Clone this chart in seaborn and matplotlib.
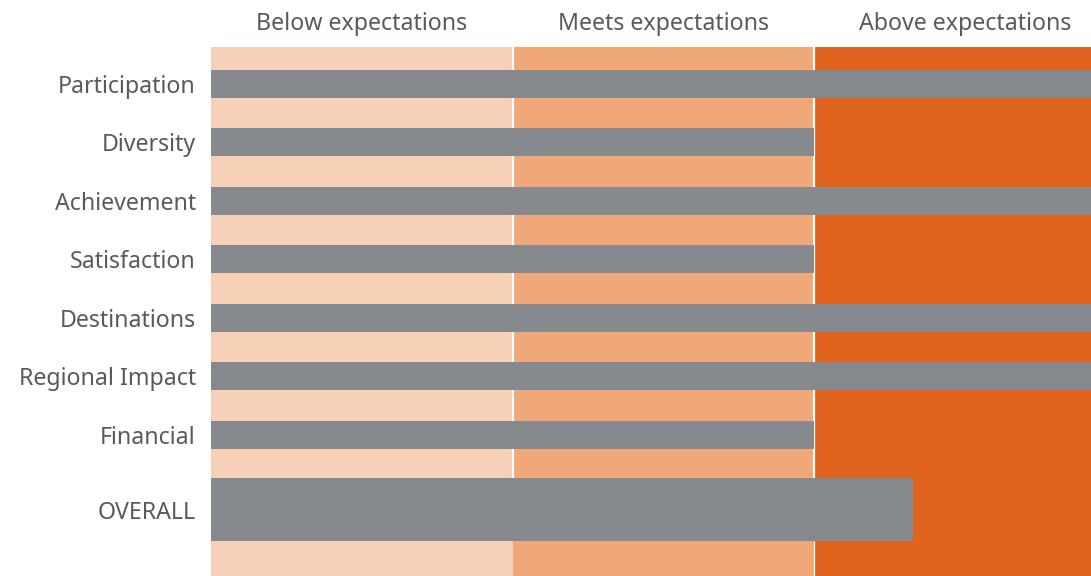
import numpy as np
import pandas as pd
import matplotlib
matplotlib.use("Agg")
import matplotlib.pyplot as plt
import matplotlib.transforms as mtrans
import seaborn as sns

# ---- data ----
categories = ["Participation", "Diversity", "Achievement", "Satisfaction",
              "Destinations", "Regional Impact", "Financial"]
scores = [3, 2, 3, 2, 3, 3, 2]
overall_label = "OVERALL"
overall_score = 2.33
band_labels = ["Below expectations", "Meets expectations", "Above expectations"]
band_edges = [0, 1, 2, 3]

# ---- style ----
sns.set_theme(style="white")
plt.rcParams["font.family"] = ["Noto Sans", "DejaVu Sans"]

BAR = "#86898D"
BANDS = ["#F6D1B8", "#F0A878", "#E0641E"]
TXT = "#5A5A5A"
FS = 16.7

fig = plt.figure(figsize=(10.91, 5.76), dpi=100)
ax = fig.add_axes([211 / 1091, 0.0, 880 / 1091, 1 - 47 / 576])

# positions (layout)
row_pos = np.arange(len(categories), dtype=float)
overall_pos = row_pos[-1] + 75 / 58.5
ylim = (overall_pos + 66 / 58.5, -36.5 / 58.5)
xmax = 880 / 301.5

# background bands
for i, c in enumerate(BANDS):
    ax.axvspan(band_edges[i], band_edges[i + 1], color=c, zorder=0, lw=0)
# white separators
ov_h = 63 / 58.5
ax.vlines([1, 2], ylim[1], overall_pos - ov_h / 2, colors="white", lw=1.6, zorder=1)
ax.vlines([2], overall_pos + ov_h / 2, ylim[0], colors="white", lw=0.9, zorder=1)

df = pd.DataFrame({"pos": row_pos, "score": scores})
sns.barplot(data=df, x="score", y="pos", orient="h", native_scale=True,
            width=28 / 58.5, color=BAR, saturation=1, errorbar=None, ax=ax,
            zorder=2)
df_o = pd.DataFrame({"pos": [overall_pos], "score": [overall_score]})
sns.barplot(data=df_o, x="score", y="pos", orient="h", native_scale=True,
            width=ov_h, color=BAR, saturation=1, errorbar=None, ax=ax,
            zorder=2)
for p in ax.patches:
    p.set_edgecolor("none")
    p.set_linewidth(0)

ax.set_xlim(0, xmax)
ax.set_ylim(*ylim)
ax.set_yticks([])
ax.set_xticks([])
ax.set_xlabel("")
ax.set_ylabel("")
for s in ax.spines.values():
    s.set_visible(False)

# category labels (right-aligned, vertically centred on bars)
lab_trans = ax.get_yaxis_transform() + mtrans.ScaledTranslation(
    -0.15, -0.09, fig.dpi_scale_trans)
for y, lab in zip(list(row_pos) + [overall_pos], categories + [overall_label]):
    ax.text(0, y, lab, transform=lab_trans, ha="right", va="baseline",
            fontsize=FS, color=TXT, clip_on=False)

for i, lab in enumerate(band_labels):
    ax.text((band_edges[i] + band_edges[i + 1]) / 2, 1 + 17 / 529, lab,
            transform=ax.get_xaxis_transform(), ha="center", va="baseline",
            fontsize=FS, color=TXT)

fig.savefig("out.png", dpi=100)
